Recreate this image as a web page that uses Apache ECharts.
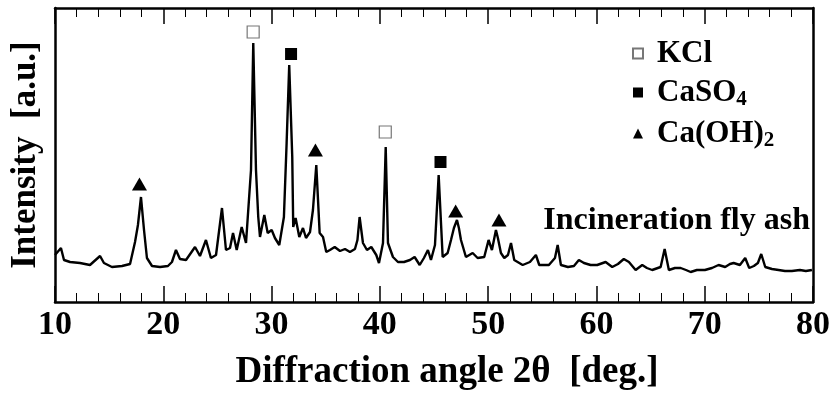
<!DOCTYPE html>
<html>
<head>
<meta charset="utf-8">
<script src="https://cdn.jsdelivr.net/npm/echarts@6/dist/echarts.min.js"></script>
<style>
  html, body { margin: 0; padding: 0; background: #fff; }
  #chart { width: 838px; height: 401px; }
</style>
</head>
<body>
<div id="chart"></div>
<script>
// XRD pattern of incineration fly ash
var angles = [
  10.0, 10.55, 10.83, 11.39, 12.31, 13.23, 14.16, 14.52, 15.26, 16.19, 16.93, 17.39, 17.66, 17.94, 18.22, 18.49,
  18.96, 19.70, 20.43, 20.80, 21.17, 21.54, 22.10, 22.93, 23.39, 23.94, 24.40, 24.87, 25.42, 25.79, 26.16, 26.44,
  26.78, 27.24, 27.64, 27.91, 28.10, 28.31, 28.56, 28.77, 28.93, 29.33, 29.64, 30.01, 30.31, 30.71, 31.14, 31.39,
  31.63, 31.91, 32.00, 32.22, 32.56, 32.90, 33.18, 33.55, 33.82, 34.13, 34.44, 34.75, 35.05, 35.39, 35.83, 36.32,
  36.78, 37.24, 37.70, 37.93, 38.13, 38.44, 38.81, 39.21, 39.67, 39.92, 40.29, 40.54, 40.75, 41.21, 41.67, 42.23,
  42.78, 43.21, 43.68, 44.07, 44.44, 44.72, 45.09, 45.43, 45.80, 46.26, 46.57, 46.84, 47.12, 47.30, 47.49, 47.95,
  48.57, 49.03, 49.64, 50.04, 50.35, 50.72, 50.90, 51.18, 51.49, 51.83, 52.11, 52.41, 53.19, 53.86, 54.41, 54.72,
  55.61, 56.17, 56.42, 56.72, 57.37, 57.92, 58.38, 58.85, 59.46, 60.07, 60.85, 61.46, 61.99, 62.53, 63.00, 63.62,
  64.23, 64.66, 65.15, 65.93, 66.30, 66.69, 67.25, 67.78, 68.27, 68.70, 69.28, 70.02, 70.67, 71.28, 71.89, 72.33,
  72.67, 73.25, 73.74, 74.11, 74.54, 74.91, 75.22, 75.59, 76.21, 76.82, 77.41, 78.05, 78.79, 79.34, 79.90
];
var intensity = [
  47, 54, 42, 40, 39, 37, 46, 39, 35, 36, 38, 60, 77, 105, 72, 44,
  36, 35, 36, 40, 52, 43, 42, 55, 46, 62, 44, 47, 94, 52, 54, 69,
  52, 75, 59, 102, 132, 259, 132, 85, 65, 87, 69, 72, 64, 57, 85, 159,
  237, 145, 75, 84, 65, 74, 64, 70, 92, 137, 69, 65, 50, 52, 55, 51,
  53, 50, 53, 62, 85, 59, 52, 55, 47, 39, 59, 155, 59, 45, 40, 40,
  42, 45, 37, 44, 52, 42, 57, 127, 45, 49, 62, 74, 82, 74, 62, 45,
  49, 44, 45, 62, 52, 72, 64, 49, 44, 47, 59, 42, 37, 40, 47, 37,
  37, 44, 57, 37, 35, 36, 42, 39, 37, 37, 40, 35, 38, 43, 40, 32,
  37, 34, 32, 35, 53, 32, 34, 34, 32, 30, 32, 32, 34, 37, 35, 38,
  39, 37, 44, 34, 36, 39, 48, 35, 33, 32, 31, 31, 32, 31, 32
];

// phase markers
var kclAngles = [28.3, 40.5];
var kclMarks = [270, 170];
var caso4Angles = [31.8, 45.6];
var caso4Marks = [248, 140];
var caoh2Angles = [17.8, 34.05, 47.0, 51.0];
var caoh2Marks = [118, 152, 91, 82];

var xTicks = [10, 20, 30, 40, 50, 60, 70, 80];

function zip(a, b) {
  return a.map(function (v, i) { return [v, b[i]]; });
}

var serif = '"Liberation Serif", "Times New Roman", serif';
var chart = echarts.init(document.getElementById('chart'));

var axisLine = { show: true, onZero: false, lineStyle: { color: '#000', width: 2.5 } };
var tick = { show: true, inside: true, length: 16, lineStyle: { color: '#000', width: 1.5 } };
var minor = { show: true, splitNumber: 5, length: 9, lineStyle: { color: '#000', width: 1 } };

var option = {
  backgroundColor: '#fff',
  animation: false,
  grid: { left: 55, right: 25, top: 8, bottom: 99 },
  xAxis: [
    {
      type: 'value', min: xTicks[0], max: xTicks[xTicks.length - 1], interval: 10,
      position: 'bottom',
      axisLine: axisLine,
      axisTick: tick,
      minorTick: minor,
      splitLine: { show: false },
      axisLabel: { color: '#000', fontFamily: serif, fontWeight: 'bold', fontSize: 34, margin: 6 },
      name: 'Diffraction angle 2θ  [deg.]',
      nameLocation: 'middle',
      nameGap: 52,
      nameTextStyle: { color: '#000', fontFamily: serif, fontWeight: 'bold', fontSize: 37, padding: [0, 0, 0, 26] }
    },
    {
      type: 'value', min: 10, max: 80, interval: 10,
      position: 'top',
      axisLine: axisLine,
      axisTick: tick,
      minorTick: minor,
      splitLine: { show: false },
      axisLabel: { show: false }
    }
  ],
  yAxis: [
    {
      type: 'value', min: 0, max: 294,
      position: 'left',
      axisLine: axisLine,
      axisTick: { show: false },
      axisLabel: { show: false },
      splitLine: { show: false },
      name: 'Intensity  [a.u.]',
      nameLocation: 'middle',
      nameGap: 12,
      nameTextStyle: { color: '#000', fontFamily: serif, fontWeight: 'bold', fontSize: 35 }
    },
    {
      type: 'value', min: 0, max: 294,
      position: 'right',
      axisLine: axisLine,
      axisTick: { show: false },
      axisLabel: { show: false },
      splitLine: { show: false }
    }
  ],
  legend: {
    orient: 'vertical',
    left: 627,
    top: 33,
    itemGap: 6,
    itemWidth: 10,
    itemHeight: 10,
    data: [
      { name: 'KCl', icon: 'rect' },
      { name: 'CaSO4', icon: 'rect' },
      { name: 'Ca(OH)2', icon: 'triangle' }
    ],
    formatter: function (name) {
      if (name === 'CaSO4') return '{n|CaSO}{s|4}';
      if (name === 'Ca(OH)2') return '{n|Ca(OH)}{s|2}';
      return '{n|' + name + '}';
    },
    textStyle: {
      color: '#000',
      rich: {
        n: { fontFamily: serif, fontWeight: 'bold', fontSize: 31, lineHeight: 32, padding: [0, 0, 0, 9], color: '#000' },
        s: { fontFamily: serif, fontWeight: 'bold', fontSize: 21, lineHeight: 32, padding: [14, 0, 0, 0], color: '#000' }
      }
    }
  },
  graphic: [
    {
      type: 'text',
      right: 28,
      top: 205,
      style: {
        text: 'Incineration fly ash',
        fill: '#000',
        font: 'bold 32px ' + serif
      }
    }
  ],
  series: [
    {
      name: 'pattern',
      type: 'line',
      data: zip(angles, intensity),
      symbol: 'none',
      lineStyle: { color: '#000', width: 2.4 },
      z: 2
    },
    {
      name: 'KCl',
      type: 'scatter',
      data: zip(kclAngles, kclMarks),
      symbol: 'rect',
      symbolSize: 12,
      itemStyle: { color: '#fff', borderColor: '#777', borderWidth: 1.2, opacity: 1 },
      z: 3
    },
    {
      name: 'CaSO4',
      type: 'scatter',
      data: zip(caso4Angles, caso4Marks),
      symbol: 'rect',
      symbolSize: 12,
      itemStyle: { color: '#000', opacity: 1 },
      z: 3
    },
    {
      name: 'Ca(OH)2',
      type: 'scatter',
      data: zip(caoh2Angles, caoh2Marks),
      symbol: 'triangle',
      symbolSize: [15, 13],
      itemStyle: { color: '#000', opacity: 1 },
      z: 3
    }
  ]
};

chart.setOption(option);
</script>
</body>
</html>
